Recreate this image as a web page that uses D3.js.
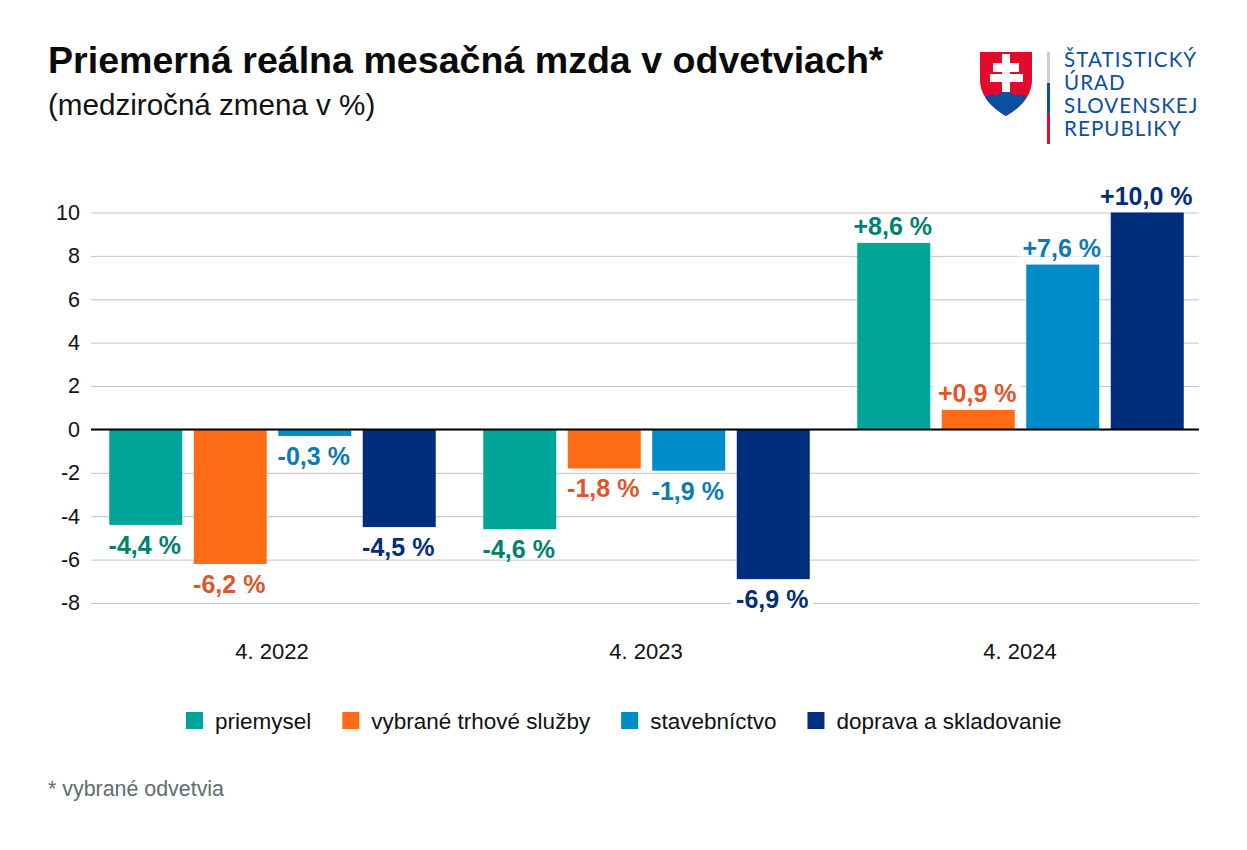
<!DOCTYPE html>
<html lang="sk">
<meta charset="UTF-8">
<title>Priemerná reálna mesačná mzda v odvetviach</title>
<style>
  html, body { margin: 0; background: #fff; }
  svg { display: block; font-family: "Liberation Sans", Arial, sans-serif; }
</style>
<body>
<svg id="chart" width="1247" height="850"></svg>
<script src="https://d3js.org/d3.v7.min.js"></script>
<script>
  // data
  const periods = ["4. 2022", "4. 2023", "4. 2024"];
  const sectors = ["priemysel", "vybrané trhové služby", "stavebníctvo", "doprava a skladovanie"];
  const priemysel = [-4.4, -4.6, 8.6];
  const sluzby = [-6.2, -1.8, 0.9];
  const stavebnictvo = [-0.3, -1.9, 7.6];
  const doprava = [-4.5, -6.9, 10.0];
  const seriesValues = [priemysel, sluzby, stavebnictvo, doprava];
  const yTicks = [-8, -6, -4, -2, 0, 2, 4, 6, 8, 10];
  const logoLines = ["ŠTATISTICKÝ", "ÚRAD", "SLOVENSKEJ", "REPUBLIKY"];

  const barColors = ["#00a499", "#ff6c17", "#008bc9", "#002d7c"];
  const labelColors = ["#00806f", "#e0562a", "#0a7cb0", "#002d7c"];

  const svg = d3.select("#chart");

  // title
  svg.append("text").attr("x", 48).attr("y", 73)
    .attr("font-size", 37.6).attr("font-weight", 700).attr("fill", "#0a0a0a")
    .text("Priemerná reálna mesačná mzda v odvetviach*");
  svg.append("text").attr("x", 48).attr("y", 115)
    .attr("font-size", 29.6).attr("fill", "#111")
    .text("(medziročná zmena v %)");

  // scales
  const y = d3.scaleLinear().domain([-8, 10]).range([603, 212.5]);
  const x0 = d3.scaleBand().domain(periods).range([85.5, 1207.5]);
  const x1 = d3.scaleBand().domain(sectors).range([0, x0.bandwidth()])
    .paddingInner(0.136).paddingOuter(0.281);

  // y axis and gridlines
  const axis = svg.append("g").attr("transform", "translate(91,0)")
    .call(d3.axisLeft(y).tickValues(yTicks).tickSize(-1108).tickPadding(11).tickFormat(d => d));
  axis.select(".domain").remove();
  axis.selectAll("line").attr("stroke", "#c4c4c4").attr("stroke-width", 1);
  axis.selectAll("text").attr("font-size", 21.5).attr("fill", "#111")
    .attr("font-family", "Liberation Sans");

  // white boxes behind the value labels cut the gridlines
  const maskLayer = svg.append("g");
  const barLayer = svg.append("g");

  seriesValues.forEach((values, s) => {
    barLayer.selectAll(null).data(values).join("rect")
      .attr("x", (d, i) => x0(periods[i]) + x1(sectors[s]))
      .attr("width", x1.bandwidth())
      .attr("y", d => y(Math.max(0, d)))
      .attr("height", d => Math.abs(y(d) - y(0)))
      .attr("fill", barColors[s]);
  });

  // zero line
  svg.append("line").attr("x1", 91).attr("x2", 1199)
    .attr("y1", y(0)).attr("y2", y(0))
    .attr("stroke", "#000").attr("stroke-width", 2);

  // value labels
  const fmt = d => (d > 0 ? "+" : "") + d.toFixed(1).replace(".", ",") + " %";
  seriesValues.forEach((values, s) => {
    barLayer.selectAll(null).data(values).join("text")
      .attr("x", (d, i) => x0(periods[i]) + x1(sectors[s]) + x1.bandwidth() / 2 - 1)
      .attr("y", d => d > 0 ? y(d) - 8 : y(d) + 29)
      .attr("text-anchor", "middle")
      .attr("font-size", 25).attr("font-weight", 700)
      .attr("fill", labelColors[s])
      .text(fmt)
      .each(function (d) {
        const b = this.getBBox();
        const base = +this.getAttribute("y");
        maskLayer.append("rect")
          .attr("x", b.x - 5).attr("y", base - 20)
          .attr("width", b.width + 10).attr("height", 20)
          .attr("fill", "#fff");
      });
  });

  // category labels
  svg.append("g").selectAll("text").data(periods).join("text")
    .attr("x", d => x0(d) + x0.bandwidth() / 2 - 0.5)
    .attr("y", 659)
    .attr("text-anchor", "middle")
    .attr("font-size", 22).attr("fill", "#111")
    .text(d => d);

  // legend
  let legendX = 186;
  sectors.forEach((name, i) => {
    const g = svg.append("g").attr("transform", `translate(${legendX},0)`);
    g.append("rect").attr("y", 712).attr("width", 17).attr("height", 17).attr("fill", barColors[i]);
    const t = g.append("text").attr("x", 29).attr("y", 729)
      .attr("font-size", 22.5).attr("fill", "#111").text(name);
    legendX += 29 + t.node().getComputedTextLength() + 31;
  });

  // footnote
  svg.append("text").attr("x", 48).attr("y", 796)
    .attr("font-size", 21.4).attr("fill", "#626b70")
    .text("* vybrané odvetvia");

  // logo
  const logo = svg.append("g");
  const shield = "M980,52 H1032 V80 C1032,96 1020,108 1006,116 C992,108 980,96 980,80 Z";
  logo.append("path").attr("d", shield).attr("fill", "#e30a2c");
  logo.append("clipPath").attr("id", "shieldClip").append("path").attr("d", shield);
  logo.append("path")
    .attr("clip-path", "url(#shieldClip)")
    .attr("fill", "#0b4ea2")
    .attr("d", "M980,104 C983,97 990,92 997,96 C1000,90 1012,90 1015,96 C1022,92 1029,97 1032,104 V120 H980 Z");
  logo.append("path").attr("fill", "#fff")
    .attr("d", "M1002,54 H1010 V63 H1019 V72 H1010 V74 H1023 V82 H1010 V92 H1002 V82 H990 V74 H1002 V72 H993 V63 H1002 Z");
  logo.append("rect").attr("x", 1047).attr("y", 52).attr("width", 3).attr("height", 31).attr("fill", "#cfcfcf");
  logo.append("rect").attr("x", 1047).attr("y", 83).attr("width", 3).attr("height", 30).attr("fill", "#0b4ea2");
  logo.append("rect").attr("x", 1047).attr("y", 113).attr("width", 3).attr("height", 31).attr("fill", "#e30a2c");
  logo.selectAll("text").data(logoLines).join("text")
    .attr("x", 1064)
    .attr("y", (d, i) => 67 + i * 23)
    .attr("font-family", "Lato")
    .attr("font-size", 20.5)
    .attr("letter-spacing", 1.1)
    .attr("fill", "#0b4ea2")
    .text(d => d);
</script>
</body>
</html>
